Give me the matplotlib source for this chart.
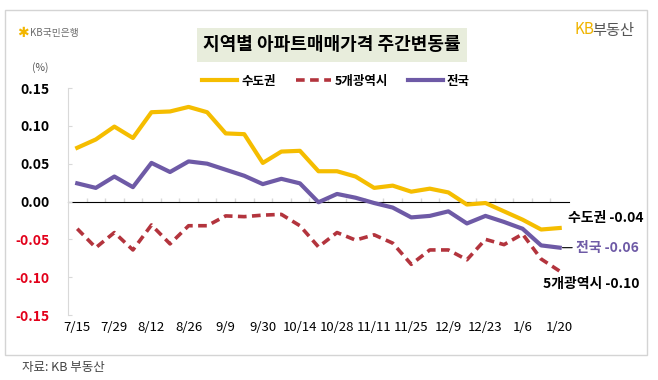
import matplotlib.pyplot as plt
from matplotlib.patches import Rectangle

plt.rcParams['font.family'] = ['Noto Sans CJK KR', 'DejaVu Sans']

# weekly dates, 2024-07-15 .. 2025-01-20 (9/16 skipped)
weeks = ["7/15", "7/22", "7/29", "8/5", "8/12", "8/19", "8/26", "9/2", "9/9",
         "9/23", "9/30", "10/7", "10/14", "10/21", "10/28", "11/4", "11/11",
         "11/18", "11/25", "12/2", "12/9", "12/16", "12/23", "12/30", "1/6",
         "1/13", "1/20"]

sudo = [0.071, 0.082, 0.099, 0.084, 0.118, 0.119, 0.125, 0.118, 0.090,
        0.089, 0.051, 0.066, 0.067, 0.040, 0.040, 0.033, 0.018, 0.021,
        0.013, 0.017, 0.012, -0.004, -0.002, -0.013, -0.024, -0.037, -0.035]
metro5 = [-0.036, -0.061, -0.041, -0.064, -0.031, -0.056, -0.032, -0.032, -0.019,
          -0.020, -0.018, -0.017, -0.032, -0.060, -0.041, -0.051, -0.044, -0.055,
          -0.083, -0.064, -0.064, -0.077, -0.050, -0.057, -0.043, -0.076, -0.092]
nation = [0.024, 0.018, 0.033, 0.019, 0.051, 0.039, 0.053, 0.050, 0.042,
          0.034, 0.023, 0.030, 0.024, -0.001, 0.010, 0.005, -0.002, -0.008,
          -0.021, -0.019, -0.013, -0.029, -0.019, -0.027, -0.036, -0.058, -0.061]

yticks = [0.15, 0.10, 0.05, 0.00, -0.05, -0.10, -0.15]

c_sudo = "#F5BD00"
c_metro = "#B3343D"
c_nation = "#6E5AA6"

fig = plt.figure(figsize=(6.58, 3.8), dpi=100)
ax = fig.add_axes([0.1033, 0.171, 0.7614, 0.5974])

x = list(range(len(weeks)))
ax.plot(x, sudo, color=c_sudo, lw=3.0, label="수도권", solid_joinstyle="round")
ax.plot(x, metro5, color=c_metro, lw=2.6, ls=(0, (2.4, 1.5)), label="5개광역시")
ax.plot(x, nation, color=c_nation, lw=3.0, label="전국", solid_joinstyle="round")

ax.set_xlim(-0.5, len(weeks) - 0.5)
ax.set_ylim(-0.15, 0.15)

# y axis
ax.set_yticks(yticks)
ax.set_yticklabels(["%.2f" % v for v in yticks], fontsize=10, fontweight="bold")
for lab, v in zip(ax.get_yticklabels(), yticks):
    lab.set_color("#E2001A" if v < 0 else "black")
ax.tick_params(axis="y", direction="in", length=3, color="#D9D9D9", pad=13)

# x labels every other week at bottom
ax.set_xticks(x[::2])
ax.set_xticklabels(weeks[::2], fontsize=9.5)
ax.tick_params(axis="x", length=0, pad=4)

for s in ["top", "right", "bottom"]:
    ax.spines[s].set_visible(False)
ax.spines["left"].set_color("#D9D9D9")

# zero line with category tick marks
zero_ax = ax.secondary_xaxis(0.5)
zero_ax.set_xticks([i + 0.5 for i in x[:-1]])
zero_ax.set_xticklabels([])
zero_ax.tick_params(direction="out", length=3, color="#D9D9D9", width=1)
zero_ax.spines["bottom"].set_color("#D9D9D9")

leg = ax.legend(loc="center", bbox_to_anchor=(0.535, 1.03), ncol=3, frameon=False,
                handlelength=2.8, handletextpad=0.3, columnspacing=1.6,
                prop={"size": 9, "weight": "bold"})

# end labels
n = len(weeks) - 1
ax.annotate("수도권 -0.04", xy=(n, sudo[n]), xytext=(6, 7), textcoords="offset points",
            fontsize=10, fontweight="bold", color="black", va="center", ha="left",
            annotation_clip=False)
ax.annotate("전국 -0.06", xy=(n, nation[n]), xytext=(12, 0), textcoords="offset points",
            fontsize=10, fontweight="bold", color=c_nation, va="center", ha="left",
            annotation_clip=False,
            arrowprops=dict(arrowstyle="-", color="black", lw=0.8, shrinkA=1, shrinkB=2))
ax.annotate("5개광역시 -0.10", xy=(n, metro5[n]), xytext=(-12, -9), textcoords="offset points",
            fontsize=10, fontweight="bold", color="black", va="center", ha="left",
            annotation_clip=False)

# frame, title, logos
fig.add_artist(Rectangle((5 / 658, 1 - 355 / 380), 642 / 658, 345 / 380,
                         transform=fig.transFigure, fill=False, ec="#D4D4D4", lw=1))
fig.add_artist(Rectangle((197 / 658, 1 - 62 / 380), 270 / 658, 34 / 380,
                         transform=fig.transFigure, fc="#E8EDDC", ec="none"))
fig.text(332 / 658, 1 - 45 / 380, "지역별 아파트매매가격 주간변동률", fontsize=13,
         fontweight="bold", ha="center", va="center")

fig.text(17 / 658, 1 - 33 / 380, "✱", fontsize=10, color="#F2B600", ha="left",
         va="center", family="DejaVu Sans", fontweight="bold")
fig.text(30 / 658, 1 - 33 / 380, "KB국민은행", fontsize=7, color="#6B6B6B",
         ha="left", va="center")
fig.text(574 / 658, 1 - 30 / 380, "KB", fontsize=11, color="#F0B400",
         ha="left", va="center")
fig.text(592 / 658, 1 - 30 / 380, "부동산", fontsize=11, color="#555555",
         ha="left", va="center")

fig.text(40 / 658, 1 - 68 / 380, "(%)", fontsize=7.5, color="#555555",
         ha="center", va="center")
fig.text(22 / 658, 1 - 368 / 380, "자료: KB 부동산", fontsize=9, color="#444444",
         ha="left", va="center")

fig.savefig("out.png", dpi=100)
